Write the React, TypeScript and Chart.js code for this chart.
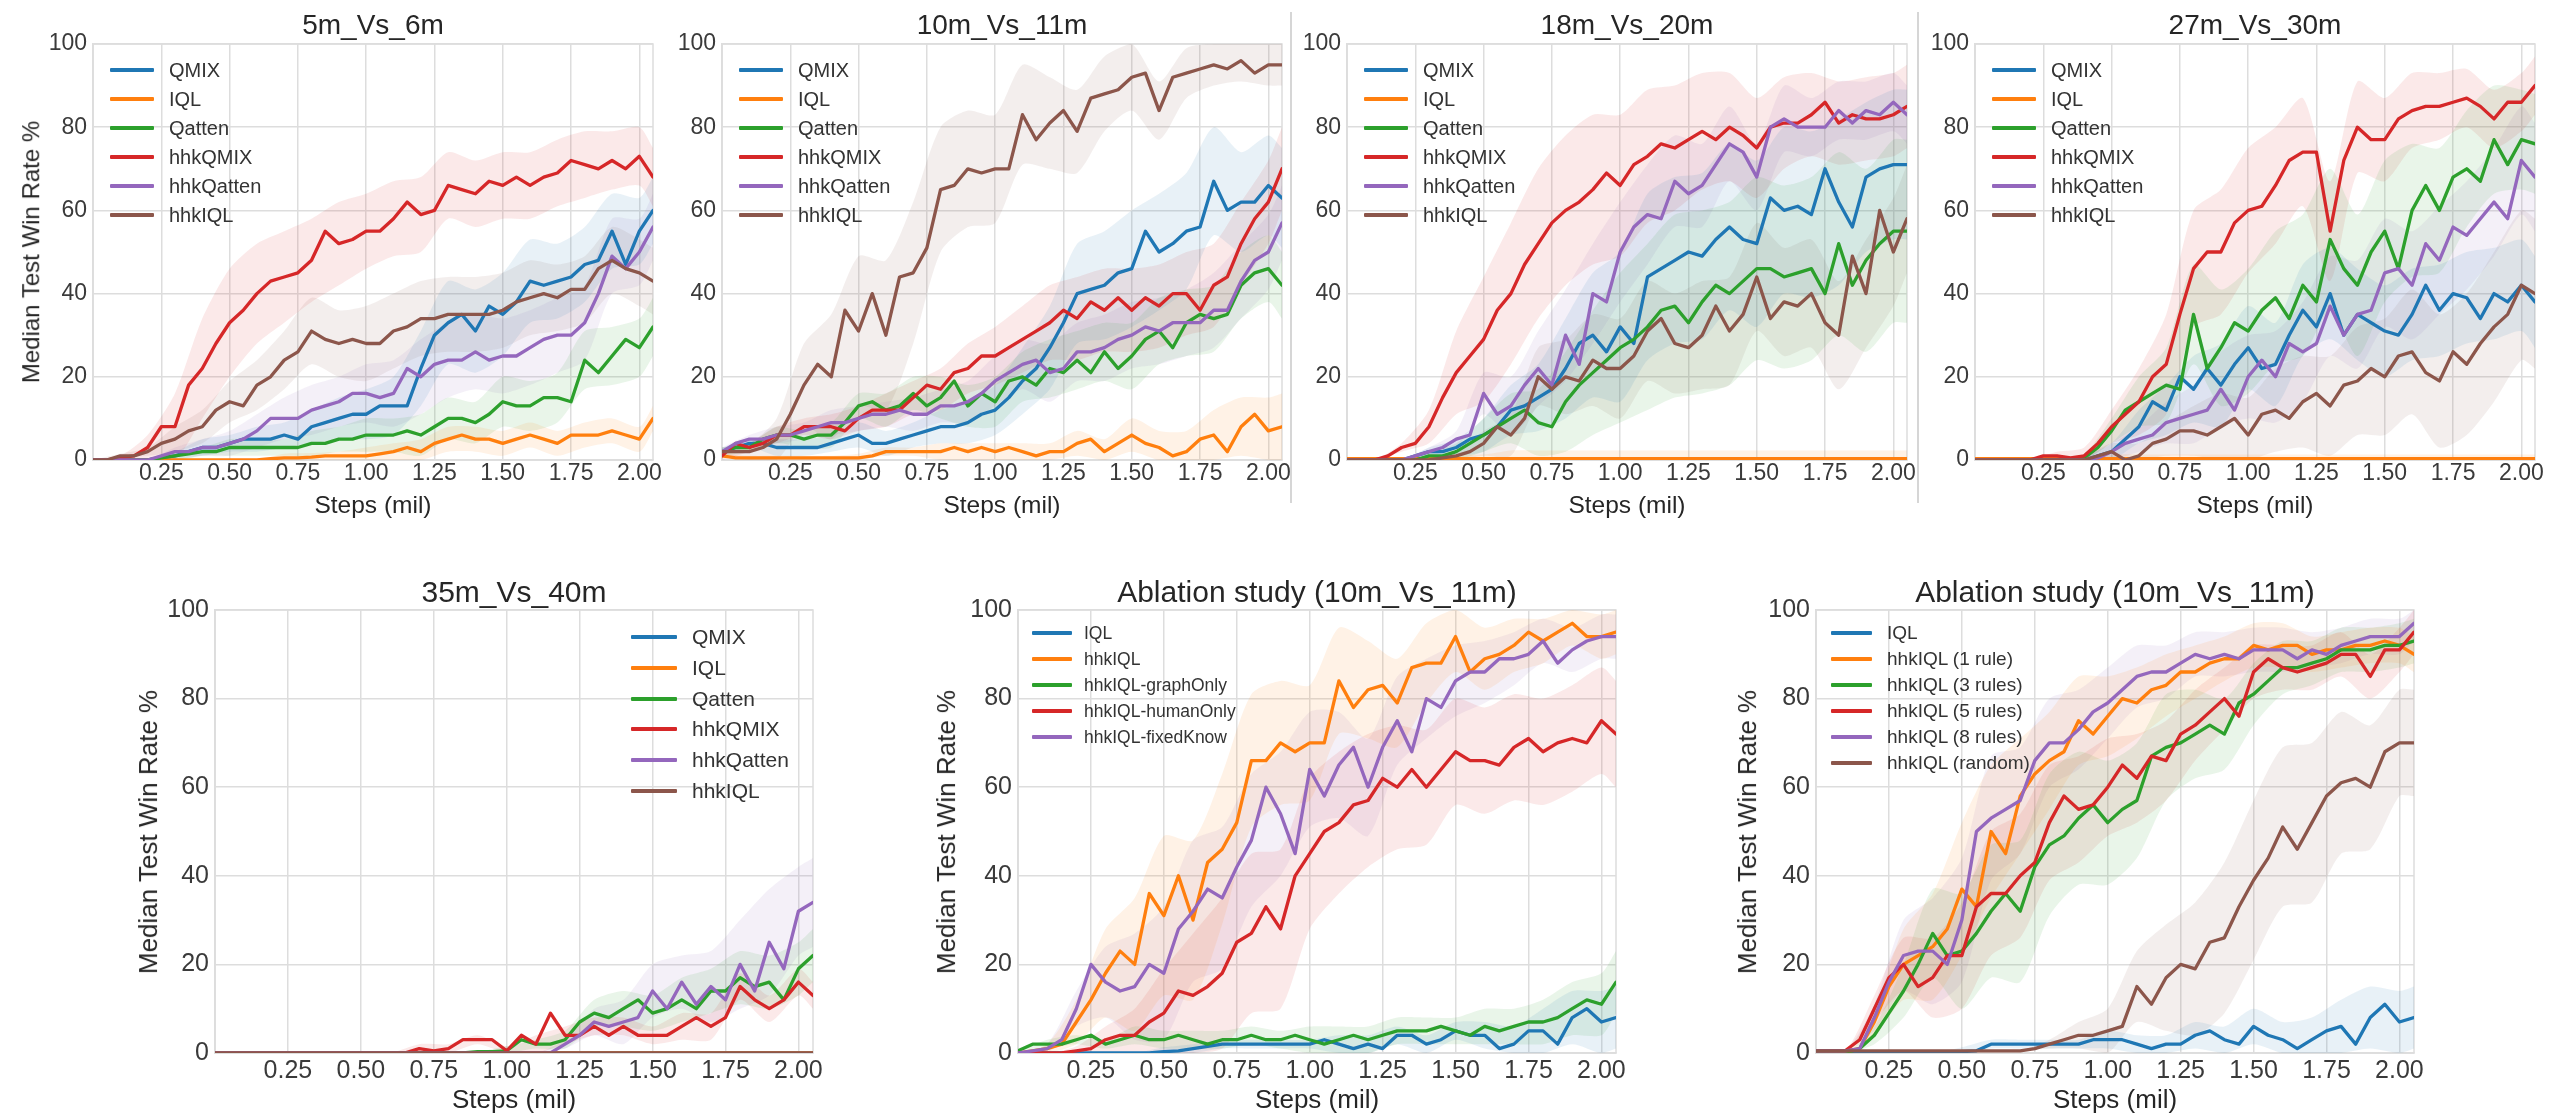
import React, { useEffect, useRef } from 'react';
import { Chart, registerables } from 'chart.js';

Chart.register(...registerables);

const FONT = "'Liberation Sans', Arial, Helvetica, sans-serif";
const GRID = '#dddddd';
const TICK = '#3a3a3a';
const TEXT = '#262626';

const BLUE = '#1f77b4';
const ORANGE = '#ff7f0e';
const GREEN = '#2ca02c';
const RED = '#d62728';
const PURPLE = '#9467bd';
const BROWN = '#8c564b';

// x positions (million steps) of the median curves
const STEPS = [0, 0.05, 0.1, 0.15, 0.2, 0.25, 0.3, 0.35, 0.4, 0.45, 0.5, 0.55, 0.6, 0.65, 0.7, 0.75, 0.8, 0.85, 0.9, 0.95, 1, 1.05, 1.1, 1.15, 1.2, 1.25, 1.3, 1.35, 1.4, 1.45, 1.5, 1.55, 1.6, 1.65, 1.7, 1.75, 1.8, 1.85, 1.9, 1.95, 2, 2.05];
// x positions of the shaded band half-widths
const BAND_STEPS = [0, 0.1, 0.2, 0.3, 0.4, 0.5, 0.6, 0.7, 0.8, 0.9, 1, 1.1, 1.2, 1.3, 1.4, 1.5, 1.6, 1.7, 1.8, 1.9, 2, 2.05];

// ---------- 5m_Vs_6m ----------
const P1_QMIX = [0,0,0,0,0,0.5,1,2,3,3,4,5,5,5,6,5,8,9,10,11,11,13,13,13,22,30,33,35,31,37,35,38,43,42,43,44,47,48,55,47,55,60];
const P1_IQL = [0,0,0,0,0,0,0,0,0,0,0,0,0,0.3,0.5,0.5,0.7,1,1,1,1,1.5,2,3,2,4,5,6,5,5,4,5,6,5,4,6,6,6,7,6,5,10];
const P1_QATTEN = [0,0,0,0,0,0.5,1,1.5,2,2,3,3,3,3,3,3,4,4,5,5,6,6,6,7,6,8,10,10,9,11,14,13,13,15,15,14,24,21,25,29,27,32];
const P1_HHKQMIX = [0,0,0.5,1,3,8,8,18,22,28,33,36,40,43,44,45,48,55,52,53,55,55,58,62,59,60,66,65,64,67,66,68,66,68,69,72,71,70,72,70,73,68];
const P1_HHKQATTEN = [0,0,0,0,0,1,2,2,3,3,4,5,7,10,10,10,12,13,14,16,16,15,16,22,20,23,24,24,26,24,25,25,27,29,30,30,33,40,49,46,50,56];
const P1_HHKIQL = [0,0,1,1,2,4,5,7,8,12,14,13,18,20,24,26,31,29,28,29,28,28,31,32,34,34,35,35,35,35,36,38,39,40,39,41,41,46,48,46,45,43];
const S_P1_QMIX = [0,0,0,1,2,2,3,3,4,5,6,7,9,10,10,10,10,9,9,9,8,8];
const S_P1_IQL = [0,0,0,0,0,0,0,1,1,1,2,2,3,3,3,3,3,3,3,3,3,3];
const S_P1_QATTEN = [0,0,0,1,1,2,2,2,3,3,4,4,5,5,5,6,6,6,7,7,7,7];
const S_P1_HHKQMIX = [0,0.5,3,8,12,13,12,11,10,10,9,9,9,8,8,8,8,8,8,7,7,7];
const S_P1_HHKQATTEN = [0,0,0,1,2,3,4,5,6,6,7,8,9,9,9,9,9,9,9,9,8,8];
const S_P1_HHKIQL = [0,0.5,1,3,4,5,6,7,8,8,9,9,9,9,9,9,9,8,8,8,8,8];

// ---------- 10m_Vs_11m ----------
const P2_QMIX = [2,3,4,4,3,3,3,3,4,5,6,4,4,5,6,7,8,8,9,11,12,15,19,22,27,33,40,41,42,45,46,55,50,52,55,56,67,60,62,62,66,63];
const P2_IQL = [1,0.5,0.5,0.5,0.5,0.5,0.5,0.5,0.5,0.5,0.5,1,2,2,2,2,2,3,2,3,2,3,2,1,2,2,4,5,2,4,6,4,3,1,2,5,6,2,8,11,7,8];
const P2_QATTEN = [2,3,3,5,6,6,5,6,6,9,13,14,12,13,16,13,15,19,13,16,14,19,20,18,22,21,24,21,26,22,25,29,31,27,33,35,34,35,42,45,46,42];
const P2_HHKQMIX = [1,4,3,4,6,6,8,8,8,7,10,12,12,12,15,18,17,21,22,25,25,27,29,31,33,36,34,38,36,39,36,39,37,40,40,36,42,44,52,58,62,70];
const P2_HHKQATTEN = [2,4,5,5,6,6,7,8,9,9,10,11,11,12,11,11,13,13,14,16,19,21,23,24,21,22,26,26,27,29,30,32,31,33,33,33,36,36,43,48,50,57];
const P2_HHKIQL = [2,2,2,3,5,11,18,23,20,36,31,40,30,44,45,51,65,66,70,69,70,70,83,77,81,84,79,87,88,89,92,93,84,92,93,94,95,94,96,93,95,95];
const S_P2_QMIX = [1,1,2,2,2,3,3,3,4,5,6,8,10,12,13,14,14,14,13,12,12,12];
const S_P2_IQL = [0.5,0.5,0.5,0.5,0.5,1,1,1,2,2,2,2,2,3,3,4,4,5,6,7,8,8];
const S_P2_QATTEN = [1,1,2,2,3,3,4,4,5,5,6,6,7,7,7,8,8,8,8,8,8,8];
const S_P2_HHKQMIX = [1,1,2,2,3,3,4,4,5,6,7,8,9,10,10,10,10,10,10,10,10,10];
const S_P2_HHKQATTEN = [1,1,2,2,3,3,3,4,4,5,6,6,7,7,8,8,8,8,9,9,9,9];
const S_P2_HHKIQL = [1,2,5,10,15,18,18,17,15,14,13,12,11,10,9,8,7,6,5,5,5,5];

// ---------- 18m_Vs_20m ----------
const P3_QMIX = [0,0,0,0,0,1,2,2,3,5,6,8,12,13,15,17,22,28,30,26,32,28,44,46,48,50,49,53,56,53,52,63,60,61,59,70,62,56,68,70,71,71];
const P3_IQL = [0.3,0.3,0.3,0.3,0.3,0.3,0.3,0.3,0.3,0.3,0.3,0.3,0.3,0.3,0.3,0.3,0.3,0.3,0.3,0.3,0.3,0.3,0.3,0.3,0.3,0.3,0.3,0.3,0.3,0.3,0.3,0.3,0.3,0.3,0.3,0.3,0.3,0.3,0.3,0.3,0.3,0.3];
const P3_QATTEN = [0,0,0,0,0,0,1,1,2,4,6,8,10,12,9,8,14,18,21,24,27,29,32,36,37,33,38,42,40,43,46,46,44,45,46,40,52,42,48,52,55,55];
const P3_HHKQMIX = [0,0,0,1,3,4,8,15,21,25,29,36,40,47,52,57,60,62,65,69,66,71,73,76,75,77,79,77,80,78,75,80,81,81,83,86,81,83,82,82,83,85];
const P3_HHKQATTEN = [0,0,0,0,0,1,2,3,5,6,16,11,13,18,22,18,30,23,40,38,50,56,59,58,67,64,66,71,76,74,68,80,82,80,80,80,84,81,84,83,86,83];
const P3_HHKIQL = [0,0,0,0,0,0,0,0.5,1,2,4,8,6,10,20,17,20,19,24,22,22,25,31,34,28,27,30,37,31,35,44,34,38,37,40,33,30,49,40,60,50,58];
const S_P3_QMIX = [0,0,0,1,2,4,6,8,12,15,18,20,20,20,20,20,20,20,20,18,18,18];
const S_P3_IQL = [0,0,0,0,1,1,2,2,2,2,2,2,2,2,2,2,2,2,2,2,2,2];
const S_P3_QATTEN = [0,0,0,1,2,4,6,8,12,15,18,20,22,22,22,22,22,22,22,22,22,22];
const S_P3_HHKQMIX = [0,0,1,4,10,15,17,18,18,18,17,16,15,14,13,12,11,10,10,10,10,10];
const S_P3_HHKQATTEN = [0,0,0,1,2,5,7,9,11,12,12,12,11,10,9,8,8,7,7,7,7,7];
const S_P3_HHKIQL = [0,0,0,0,1,3,5,7,9,11,12,12,12,13,13,13,13,13,13,13,13,13];

// ---------- 27m_Vs_30m ----------
const P4_QMIX = [0,0,0,0,0,0,0,0,0,1,2,5,8,14,12,20,17,22,18,23,27,22,23,30,36,32,40,30,35,33,31,30,35,42,36,40,39,34,40,38,42,38];
const P4_IQL = [0.3,0.3,0.3,0.3,0.3,0.3,0.3,0.3,0.3,0.3,0.3,0.3,0.3,0.3,0.3,0.3,0.3,0.3,0.3,0.3,0.3,0.3,0.3,0.3,0.3,0.3,0.3,0.3,0.3,0.3,0.3,0.3,0.3,0.3,0.3,0.3,0.3,0.3,0.3,0.3,0.3,0.3];
const P4_QATTEN = [0,0,0,0,0,0,0,0,0.5,3,7,12,14,16,18,17,35,22,27,33,31,36,39,34,42,38,53,46,42,50,55,46,60,66,60,68,70,67,77,71,77,76];
const P4_HHKQMIX = [0,0,0,0,0,1,1,0.5,1,4,8,11,14,20,23,35,46,50,50,57,60,61,66,72,74,74,55,72,80,77,77,82,84,85,85,86,87,85,82,86,86,90];
const P4_HHKQATTEN = [0,0,0,0,0,0,0,0,0,0.5,2,4,5,6,9,10,11,12,17,12,20,24,20,28,26,28,37,30,35,36,45,46,42,52,48,56,54,58,62,58,72,68];
const P4_HHKIQL = [0,0,0,0,0,0,0,0,0,1,2,0,1,4,5,7,7,6,8,10,6,11,12,10,14,16,13,18,19,22,20,25,26,21,19,26,23,28,32,35,42,40];
const S_P4_QMIX = [0,0,0,0,1,2,4,6,8,10,10,10,11,11,11,11,11,11,11,11,11,11];
const S_P4_IQL = [0,0,0,0,0,1,1,1,1,1,1,1,1,1,1,1,1,1,1,1,1,1];
const S_P4_QATTEN = [0,0,0,0,1,3,6,9,12,14,15,16,17,17,17,17,16,15,14,13,12,12];
const S_P4_HHKQMIX = [0,0,0,1,2,4,8,12,14,15,15,14,13,12,11,10,9,8,7,7,7,7];
const S_P4_HHKQATTEN = [0,0,0,0,1,2,3,5,7,9,10,11,12,12,13,13,13,13,13,13,13,13];
const S_P4_HHKIQL = [0,0,0,0,1,2,3,4,6,8,9,10,11,12,13,14,15,16,17,18,18,18];

// ---------- 35m_Vs_40m ----------
const P5_QMIX = [0,0,0,0,0,0,0,0,0,0,0,0,0,0,0,0,0,0,0,0,0,0,0,0,0,0,0,0,0,0,0,0,0,0,0,0,0,0,0,0,0,0];
const P5_IQL = [0,0,0,0,0,0,0,0,0,0,0,0,0,0,0,0,0,0,0,0,0,0,0,0,0,0,0,0,0,0,0,0,0,0,0,0,0,0,0,0,0,0];
const P5_QATTEN = [0,0,0,0,0,0,0,0,0,0,0,0,0,0,0,0,0,0,0.3,0.3,0.5,3,2,2,3,7,9,8,10,12,9,10,12,10,14,14,17,15,16,12,19,22];
const P5_HHKQMIX = [0,0,0,0,0,0,0,0,0,0,0,0,0,0,1,0.5,1,3,3,3,0.5,4,2,9,4,4,6,4,6,4,4,4,6,8,6,8,15,12,10,12,16,13];
const P5_HHKQATTEN = [0,0,0,0,0,0,0,0,0,0,0,0,0,0,0,0,0,0,0,0,0,0,0,0,2,4,7,6,7,8,14,10,16,11,15,12,20,14,25,19,32,34];
const P5_HHKIQL = [0,0,0,0,0,0,0,0,0,0,0,0,0,0,0,0,0,0,0,0,0,0,0,0,0,0,0,0,0,0,0,0,0,0,0,0,0,0,0,0,0,0];
const S_P5_FLAT = [0,0,0,0,0,0,0,0,0,0,0,0,0,0,0,0,0,0,0,0,0,0];
const S_P5_QATTEN = [0,0,0,0,0,0,0,0,0,0,1,1,2,3,4,4,5,5,6,6,6,6];
const S_P5_HHKQMIX = [0,0,0,0,0,0,0,1,1,1,1,2,2,2,2,2,3,3,3,3,3,3];
const S_P5_HHKQATTEN = [0,0,0,0,0,0,0,0,0,0,0,0,1,3,5,6,6,8,10,12,10,10];

// ---------- Ablation study (components) ----------
const P6_IQL = [0,0,0,0,0,0,0,0,0,0,0.3,0.5,1,1.5,2,2,2,2,2,2,2,3,2,1,2,1,4,4,2,3,5,4,4,1,2,5,5,2,8,10,7,8];
const P6_HHKIQL = [0,0.5,1,2,7,12,18,23,20,36,31,40,30,43,46,52,66,66,70,68,70,70,84,78,82,83,79,87,88,88,94,86,89,90,92,95,93,95,97,94,94,95];
const P6_GRAPH = [0.5,2,2,2,3,4,2,3,4,3,3,4,3,2,3,3,4,3,3,4,3,2,3,4,3,4,5,5,5,6,5,4,6,5,6,7,7,8,10,12,11,16];
const P6_HUMAN = [0,0,0,0,0.5,1,3,4,4,7,9,14,13,15,18,25,27,33,28,40,45,50,52,56,57,62,60,64,60,64,68,66,66,65,69,71,68,70,71,70,75,72];
const P6_FIXED = [0,0.5,1,3,10,20,16,14,15,20,18,28,32,37,35,42,48,60,54,45,64,58,65,69,60,69,75,68,80,78,84,86,86,89,89,90,93,88,91,93,94,94];
const S_P6_IQL = [0,0,0,0,0,1,1,1,1,1,1,2,2,2,2,2,3,4,5,6,7,7];
const S_P6_HHKIQL = [0,1,5,10,15,18,18,17,15,14,13,12,11,10,9,8,7,6,5,5,5,5];
const S_P6_GRAPH = [0,1,1,1,2,2,2,2,2,2,3,3,3,3,3,3,4,4,5,6,7,7];
const S_P6_HUMAN = [0,0,1,3,6,10,14,17,18,18,17,16,15,14,13,12,12,12,12,12,12,12];
const S_P6_FIXED = [0,1,4,8,12,15,16,16,15,14,13,12,11,10,9,8,7,6,5,5,5,5];

// ---------- Ablation study (rules) ----------
const P7_IQL = [0,0,0,0,0,0,0,0,0,0,0.3,0.5,2,2,2,2,2,2,2,3,3,3,2,1,2,2,4,5,3,2,6,4,3,1,3,5,6,2,8,11,7,8];
const P7_R1 = [0.5,0.5,0.5,1,7,15,20,22,24,28,37,33,50,45,58,63,66,68,75,72,76,80,79,82,83,86,86,88,89,89,92,91,92,92,90,91,91,92,92,93,92,90];
const P7_R3 = [0,0,0,1,4,9,14,20,27,22,23,27,32,36,32,42,47,49,53,56,52,55,57,67,69,70,72,74,72,79,81,84,87,87,88,89,91,91,91,92,92,93];
const P7_R5 = [0.5,0.5,0.5,3,10,17,20,15,17,22,22,33,36,36,40,43,52,58,55,56,60,65,62,67,66,72,74,77,80,76,86,89,87,86,87,88,90,90,85,91,91,95];
const P7_R8 = [0.5,0.5,0.5,1,8,16,22,23,23,20,30,50,53,55,57,66,70,70,73,77,79,82,85,86,86,88,90,89,90,89,91,91,91,89,91,90,92,93,94,94,94,97];
const P7_RAND = [0.5,0.5,0.5,0.5,0.5,0.5,0.5,0.5,0.5,0.5,0.5,0.5,0.5,0.5,0.5,1,2,3,4,4,5,6,15,11,17,20,19,25,26,33,39,44,51,46,52,58,61,62,60,68,70,70];
const S_P7_IQL = [0,0,0,0,0,1,1,1,1,1,2,2,2,3,3,4,4,5,6,7,7,7];
const S_P7_R1 = [0,0,3,8,12,15,15,13,11,10,9,8,7,6,5,5,5,4,4,4,4,4];
const S_P7_R3 = [0,0,2,6,10,13,15,16,16,15,14,13,12,10,8,7,6,5,5,5,5,5];
const S_P7_R5 = [0,0,3,6,9,12,14,14,13,12,11,10,9,8,7,6,5,5,5,5,5,5];
const S_P7_R8 = [0,0,3,8,12,14,14,12,10,9,8,7,6,5,5,5,5,4,4,4,4,4];
const S_P7_RAND = [0,0,0,0,0,0,0,0,1,3,5,8,12,15,17,18,18,18,16,14,12,12];

const X_TICK_STEP = 0.25;
const Y_TICK_STEP = 20;
const X_MAX = 2.05;
const BAND_ALPHA = 0.1;

type Series = { label: string; color: string; values: number[]; spread: number[] };
type LegendCfg = { y0: number; dy: number; lineX: number; lineW: number; textX: number; font: number };
type PanelCfg = {
  title: string; L: number; T: number; W: number; H: number;
  tickFont: number; xTickPad: number;
  titleY: number; titleFont: number;
  xLabelY: number; xLabelFont: number;
  yLabelX: number | null; yLabelFont: number;
  legend: LegendCfg; series: Series[];
};

const TOP = { T: 44, W: 560, H: 416, tickFont: 23, xTickPad: 2, titleY: 25, titleFont: 28, xLabelY: 505, xLabelFont: 24.5, yLabelFont: 24 };
const BOT = { T: 610, W: 598, H: 443, tickFont: 25, xTickPad: 6, titleY: 592, titleFont: 30, xLabelY: 1100, xLabelFont: 26, yLabelFont: 26 };
const TOP_LEGEND: LegendCfg = { y0: 70, dy: 29, lineX: 17, lineW: 44, textX: 76, font: 20 };

const baseSeries = (q: number[], i: number[], qa: number[], hq: number[], hqa: number[], hi: number[], sq: number[], si: number[], sqa: number[], shq: number[], shqa: number[], shi: number[]): Series[] => [
  { label: 'QMIX', color: BLUE, values: q, spread: sq },
  { label: 'IQL', color: ORANGE, values: i, spread: si },
  { label: 'Qatten', color: GREEN, values: qa, spread: sqa },
  { label: 'hhkQMIX', color: RED, values: hq, spread: shq },
  { label: 'hhkQatten', color: PURPLE, values: hqa, spread: shqa },
  { label: 'hhkIQL', color: BROWN, values: hi, spread: shi },
];

const PANELS: PanelCfg[] = [
  { ...TOP, title: '5m_Vs_6m', L: 93, yLabelX: 31, legend: TOP_LEGEND,
    series: baseSeries(P1_QMIX, P1_IQL, P1_QATTEN, P1_HHKQMIX, P1_HHKQATTEN, P1_HHKIQL, S_P1_QMIX, S_P1_IQL, S_P1_QATTEN, S_P1_HHKQMIX, S_P1_HHKQATTEN, S_P1_HHKIQL) },
  { ...TOP, title: '10m_Vs_11m', L: 722, yLabelX: null, legend: TOP_LEGEND,
    series: baseSeries(P2_QMIX, P2_IQL, P2_QATTEN, P2_HHKQMIX, P2_HHKQATTEN, P2_HHKIQL, S_P2_QMIX, S_P2_IQL, S_P2_QATTEN, S_P2_HHKQMIX, S_P2_HHKQATTEN, S_P2_HHKIQL) },
  { ...TOP, title: '18m_Vs_20m', L: 1347, yLabelX: null, legend: TOP_LEGEND,
    series: baseSeries(P3_QMIX, P3_IQL, P3_QATTEN, P3_HHKQMIX, P3_HHKQATTEN, P3_HHKIQL, S_P3_QMIX, S_P3_IQL, S_P3_QATTEN, S_P3_HHKQMIX, S_P3_HHKQATTEN, S_P3_HHKIQL) },
  { ...TOP, title: '27m_Vs_30m', L: 1975, yLabelX: null, legend: TOP_LEGEND,
    series: baseSeries(P4_QMIX, P4_IQL, P4_QATTEN, P4_HHKQMIX, P4_HHKQATTEN, P4_HHKIQL, S_P4_QMIX, S_P4_IQL, S_P4_QATTEN, S_P4_HHKQMIX, S_P4_HHKQATTEN, S_P4_HHKIQL) },
  { ...BOT, title: '35m_Vs_40m', L: 215, yLabelX: 149, legend: { y0: 637, dy: 30.8, lineX: 416, lineW: 46, textX: 477, font: 21 },
    series: baseSeries(P5_QMIX, P5_IQL, P5_QATTEN, P5_HHKQMIX, P5_HHKQATTEN, P5_HHKIQL, S_P5_FLAT, S_P5_FLAT, S_P5_QATTEN, S_P5_HHKQMIX, S_P5_HHKQATTEN, S_P5_FLAT) },
  { ...BOT, title: 'Ablation study (10m_Vs_11m)', L: 1018, yLabelX: 947, legend: { y0: 633, dy: 26, lineX: 14, lineW: 40, textX: 66, font: 17.5 },
    series: [
      { label: 'IQL', color: BLUE, values: P6_IQL, spread: S_P6_IQL },
      { label: 'hhkIQL', color: ORANGE, values: P6_HHKIQL, spread: S_P6_HHKIQL },
      { label: 'hhkIQL-graphOnly', color: GREEN, values: P6_GRAPH, spread: S_P6_GRAPH },
      { label: 'hhkIQL-humanOnly', color: RED, values: P6_HUMAN, spread: S_P6_HUMAN },
      { label: 'hhkIQL-fixedKnow', color: PURPLE, values: P6_FIXED, spread: S_P6_FIXED },
    ] },
  { ...BOT, title: 'Ablation study (10m_Vs_11m)', L: 1816, yLabelX: 1748, legend: { y0: 633, dy: 26, lineX: 15, lineW: 41, textX: 71, font: 19 },
    series: [
      { label: 'IQL', color: BLUE, values: P7_IQL, spread: S_P7_IQL },
      { label: 'hhkIQL (1 rule)', color: ORANGE, values: P7_R1, spread: S_P7_R1 },
      { label: 'hhkIQL (3 rules)', color: GREEN, values: P7_R3, spread: S_P7_R3 },
      { label: 'hhkIQL (5 rules)', color: RED, values: P7_R5, spread: S_P7_R5 },
      { label: 'hhkIQL (8 rules)', color: PURPLE, values: P7_R8, spread: S_P7_R8 },
      { label: 'hhkIQL (random)', color: BROWN, values: P7_RAND, spread: S_P7_RAND },
    ] },
];

const PAD_L = 100, PAD_T = 26, PAD_R = 36, PAD_B = 44;

function rgba(hex: string, a: number) {
  const n = parseInt(hex.slice(1), 16);
  return `rgba(${(n >> 16) & 255},${(n >> 8) & 255},${n & 255},${a})`;
}

const framePlugin = {
  id: 'frame',
  beforeDatasetsDraw(chart: any) {
    const { ctx, chartArea: a } = chart;
    ctx.save();
    ctx.strokeStyle = GRID;
    ctx.lineWidth = 1.5;
    ctx.strokeRect(a.left, a.top, a.right - a.left, a.bottom - a.top);
    ctx.restore();
  },
};

function Panel({ cfg }: { cfg: PanelCfg }) {
  const ref = useRef<HTMLCanvasElement | null>(null);
  const cw = cfg.W + PAD_L + PAD_R;
  const ch = cfg.H + PAD_T + PAD_B;

  useEffect(() => {
    if (!ref.current) return;
    const datasets: any[] = [];
    const last = STEPS.length - 1;
    cfg.series.forEach((s) => {
      const at = (i: number) => s.values[i < 21 ? i * 2 : last] ?? 0;
      datasets.push({
        data: BAND_STEPS.map((x, i) => ({ x, y: Math.max(0, at(i) - (s.spread[i] ?? 0)) })),
        borderWidth: 0, borderColor: 'rgba(0,0,0,0)', backgroundColor: 'rgba(0,0,0,0)',
        pointRadius: 0, fill: false, order: 100, tension: 0.25,
      });
      datasets.push({
        data: BAND_STEPS.map((x, i) => ({ x, y: Math.min(100, at(i) + (s.spread[i] ?? 0)) })),
        borderWidth: 0, borderColor: 'rgba(0,0,0,0)', backgroundColor: rgba(s.color, BAND_ALPHA),
        pointRadius: 0, fill: '-1', order: 100, tension: 0.25,
      });
    });
    cfg.series.forEach((s, si) => {
      datasets.push({
        label: s.label,
        data: STEPS.map((x, i) => ({ x, y: s.values[i] ?? 0 })),
        borderColor: s.color, backgroundColor: s.color, borderWidth: 3.3,
        pointRadius: 0, fill: false, tension: 0, order: 50 - si,
        borderJoinStyle: 'round', borderCapStyle: 'round',
      });
    });

    const tickFont = { family: FONT, size: cfg.tickFont };
    const chart = new Chart(ref.current, {
      type: 'line',
      data: { datasets },
      plugins: [framePlugin],
      options: {
        responsive: false,
        animation: false,
        devicePixelRatio: 1,
        layout: { padding: { top: PAD_T, right: PAD_R, bottom: 0, left: 0 } },
        plugins: { legend: { display: false }, tooltip: { enabled: false }, title: { display: false } },
        scales: {
          x: {
            type: 'linear', min: 0, max: X_MAX,
            afterFit: (s: any) => { s.height = PAD_B; },
            grid: { color: GRID, lineWidth: 1.5, drawTicks: false },
            border: { color: GRID, width: 1.5 },
            ticks: {
              stepSize: X_TICK_STEP, includeBounds: false, autoSkip: false, maxRotation: 0,
              padding: cfg.xTickPad, color: TICK,
              font: { ...tickFont, lineHeight: 1 },
              callback: (v: any) => (Number(v) === 0 ? '' : Number(v).toFixed(2)),
            },
          },
          y: {
            type: 'linear', min: 0, max: 100,
            afterFit: (s: any) => { s.width = PAD_L; },
            grid: { color: GRID, lineWidth: 1.5, drawTicks: false },
            border: { color: GRID, width: 1.5 },
            ticks: { stepSize: Y_TICK_STEP, padding: 6, color: TICK, font: tickFont, callback: (v: any) => String(v) },
          },
        },
      } as any,
    });
    return () => chart.destroy();
  }, [cfg]);

  const cx = cfg.L + cfg.W / 2;
  const lg = cfg.legend;
  return (
    <>
      <canvas
        ref={ref}
        width={cw}
        height={ch}
        style={{ position: 'absolute', left: cfg.L - PAD_L, top: cfg.T - PAD_T, width: cw, height: ch }}
      />
      <div style={{ position: 'absolute', left: cx, top: cfg.titleY, transform: 'translate(-50%,-50%)', fontSize: cfg.titleFont, color: TEXT, whiteSpace: 'nowrap', lineHeight: 1.15 }}>
        {cfg.title}
      </div>
      <div style={{ position: 'absolute', left: cx, top: cfg.xLabelY, transform: 'translate(-50%,-50%)', fontSize: cfg.xLabelFont, color: TEXT, whiteSpace: 'nowrap', lineHeight: 1.15 }}>
        Steps (mil)
      </div>
      {cfg.yLabelX !== null && (
        <div style={{ position: 'absolute', left: cfg.yLabelX, top: cfg.T + cfg.H / 2, transform: 'translate(-50%,-50%) rotate(-90deg)', fontSize: cfg.yLabelFont, color: TEXT, whiteSpace: 'nowrap', lineHeight: 1.15 }}>
          Median Test Win Rate %
        </div>
      )}
      {cfg.series.map((s, i) => (
        <React.Fragment key={s.label + i}>
          <div style={{ position: 'absolute', left: cfg.L + lg.lineX, top: lg.y0 + i * lg.dy - 2, width: lg.lineW, height: 4, background: s.color, borderRadius: 1 }} />
          <div style={{ position: 'absolute', left: cfg.L + lg.textX, top: lg.y0 + i * lg.dy, transform: 'translateY(-50%)', fontSize: lg.font, color: '#333', whiteSpace: 'nowrap', lineHeight: 1.15 }}>
            {s.label}
          </div>
        </React.Fragment>
      ))}
    </>
  );
}

export default function App() {
  return (
    <div style={{ position: 'fixed', left: 0, top: 0, width: 2552, height: 1117, background: '#ffffff', overflow: 'hidden', fontFamily: FONT }}>
      {PANELS.map((p, i) => <Panel key={i} cfg={p} />)}
      <div style={{ position: 'absolute', left: 1290, top: 12, width: 2, height: 491, background: '#d6d6d6' }} />
      <div style={{ position: 'absolute', left: 1917, top: 12, width: 2, height: 491, background: '#d6d6d6' }} />
    </div>
  );
}
